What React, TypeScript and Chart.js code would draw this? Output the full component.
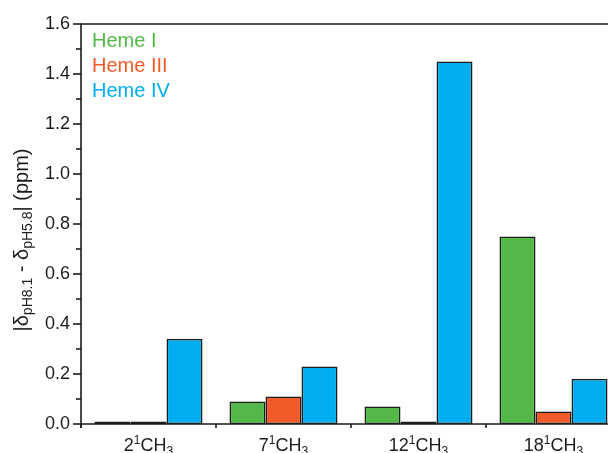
import React, { useEffect, useRef } from "react";
import { Chart, registerables } from "chart.js";

Chart.register(...registerables);

// Methyl positions on the heme ring (drawn as n¹CH₃)
const positions = ["2", "7", "12", "18"];
const categories = positions.map((p) => `${p}¹CH₃`);

const seriesNames = ["Heme I", "Heme III", "Heme IV"];
const hemeI = [0.01, 0.09, 0.07, 0.75];
const hemeIII = [0.01, 0.11, 0.01, 0.05];
const hemeIV = [0.34, 0.23, 1.45, 0.18];

const yTicks = [0, 0.2, 0.4, 0.6, 0.8, 1.0, 1.2, 1.4, 1.6];

const COLORS = ["#53b848", "#f15a29", "#00adee"];
const FONT = "'Liberation Sans', Arial, Helvetica, sans-serif";
const INK = "#1c1c1c";

const W = 626;
const H = 453;

const decor = {
  id: "decor",
  afterDatasetsDraw(chart: any) {
    const ctx = chart.ctx as CanvasRenderingContext2D;
    const { left, right, top, bottom } = chart.chartArea;
    const xs = chart.scales.x;
    const ys = chart.scales.y;
    ctx.save();
    ctx.strokeStyle = INK;
    ctx.lineWidth = 1.6;
    ctx.lineCap = "butt";

    // frame
    ctx.beginPath();
    ctx.moveTo(left, bottom + 4);
    ctx.lineTo(left, top);
    ctx.lineTo(right, top);
    ctx.lineTo(right, bottom);
    ctx.moveTo(left - 1, bottom);
    ctx.lineTo(right, bottom);
    ctx.stroke();

    // y ticks: major every 0.2, minor between
    ys.ticks.forEach((t: any, i: number) => {
      const y = ys.getPixelForTick(i);
      const major = Math.round(t.value * 10) % 2 === 0;
      ctx.beginPath();
      ctx.moveTo(left - (major ? 8 : 5), y);
      ctx.lineTo(left, y);
      ctx.stroke();
    });

    // x ticks at category boundaries
    for (let i = 0; i <= positions.length; i++) {
      const x = xs.getPixelForValue(i - 0.5);
      ctx.beginPath();
      ctx.moveTo(x, bottom);
      ctx.lineTo(x, bottom + 4);
      ctx.stroke();
    }

    // x labels: n¹CH₃
    ctx.fillStyle = INK;
    ctx.textBaseline = "alphabetic";
    ctx.textAlign = "left";
    const big = `18px ${FONT}`;
    const small = `12px ${FONT}`;
    positions.forEach((p, i) => {
      const cx = xs.getPixelForValue(i);
      const parts: [string, string, number][] = [
        [p, big, 0],
        ["1", small, -7],
        ["CH", big, 0],
        ["3", small, 4],
      ];
      let total = 0;
      parts.forEach(([s, f]) => {
        ctx.font = f;
        total += ctx.measureText(s).width;
      });
      let x = cx - total / 2;
      const base = 451;
      parts.forEach(([s, f, dy]) => {
        ctx.font = f;
        ctx.fillText(s, x, base + dy);
        x += ctx.measureText(s).width;
      });
    });

    // y title: |δpH8.1 - δpH5.8| (ppm)
    const tBig = `20px ${FONT}`;
    const tSmall = `14px ${FONT}`;
    const tparts: [string, string, number][] = [
      ["|δ", tBig, 0],
      ["pH8.1", tSmall, 4],
      [" - δ", tBig, 0],
      ["pH5.8", tSmall, 4],
      ["| (ppm)", tBig, 0],
    ];
    let tw = 0;
    tparts.forEach(([s, f]) => {
      ctx.font = f;
      tw += ctx.measureText(s).width;
    });
    ctx.translate(28, 240);
    ctx.rotate(-Math.PI / 2);
    let tx = -tw / 2;
    tparts.forEach(([s, f, dy]) => {
      ctx.font = f;
      ctx.fillText(s, tx, dy);
      tx += ctx.measureText(s).width;
    });
    ctx.setTransform(1, 0, 0, 1, 0, 0);

    // legend, coloured text only
    ctx.font = `20px ${FONT}`;
    chart.data.datasets.forEach((ds: any, i: number) => {
      ctx.fillStyle = ds.backgroundColor;
      ctx.fillText(ds.label, 92, 47 + i * 25);
    });
    ctx.restore();
  },
};

export default function App() {
  const ref = useRef<HTMLCanvasElement | null>(null);

  useEffect(() => {
    if (!ref.current) return;
    const series = [hemeI, hemeIII, hemeIV];
    const chart = new Chart(ref.current, {
      type: "bar",
      data: {
        labels: categories,
        datasets: series.map((d, i) => ({
          label: seriesNames[i],
          data: d,
          backgroundColor: COLORS[i],
          borderColor: INK,
          borderWidth: 1.6,
          borderSkipped: false,
          categoryPercentage: 0.8,
          barPercentage: 1.0,
        })),
      },
      options: {
        responsive: false,
        animation: false,
        devicePixelRatio: 1,
        layout: { padding: { left: 0, top: 24, right: 5, bottom: 0 } },
        plugins: {
          legend: { display: false },
          tooltip: { enabled: false },
        },
        scales: {
          x: {
            type: "category",
            offset: true,
            grid: { display: false },
            border: { display: false },
            ticks: { display: false },
            afterFit: (s: any) => {
              s.height = 29;
            },
          },
          y: {
            min: 0,
            max: 1.6,
            grid: { display: false, drawTicks: false },
            border: { display: false },
            ticks: {
              stepSize: 0.1,
              padding: 11,
              color: INK,
              font: { family: FONT, size: 18 },
              callback: (v: any) => {
                const val = Number(v);
                const hit = yTicks.find((t) => Math.abs(t - val) < 1e-6);
                return hit === undefined ? "" : hit.toFixed(1);
              },
            },
            afterFit: (s: any) => {
              s.width = 81;
            },
          },
        },
      },
      plugins: [decor],
    });
    return () => chart.destroy();
  }, []);

  return (
    <div
      style={{
        position: "fixed",
        left: 0,
        top: 0,
        width: 608,
        height: 453,
        overflow: "hidden",
        background: "#fff",
      }}
    >
      <canvas ref={ref} width={W} height={H} style={{ width: W, height: H, display: "block" }} />
    </div>
  );
}
